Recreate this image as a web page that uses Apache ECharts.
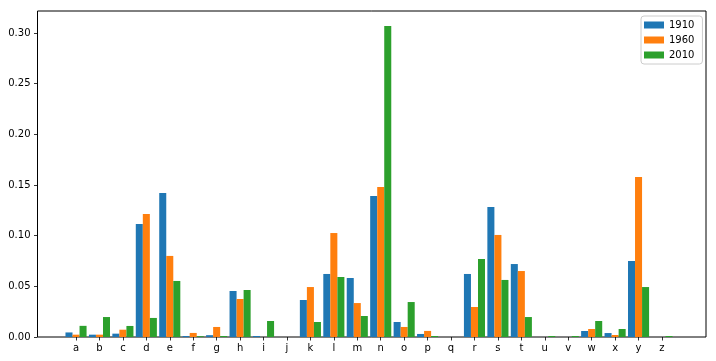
<!DOCTYPE html>
<html>
<head>
<meta charset="utf-8">
<script src="https://cdn.jsdelivr.net/npm/echarts@6/dist/echarts.min.js"></script>
<style>html,body{margin:0;padding:0;background:#fff}#c{width:716px;height:361px}</style>
</head>
<body>
<div id="c"></div>
<script>
const categories = ['a','b','c','d','e','f','g','h','i','j','k','l','m','n','o','p','q','r','s','t','u','v','w','x','y','z'];
const seriesNames = ['1910','1960','2010'];
const v1910 = [0.0045,0.0023,0.0033,0.1115,0.1421,0.0010,0.0018,0.0454,0.0010,0.0000,0.0365,0.0622,0.0582,0.1391,0.0148,0.0030,0.0000,0.0622,0.1283,0.0720,0.0000,0.0000,0.0059,0.0039,0.0750,0.0000];
const v1960 = [0.0023,0.0023,0.0072,0.1214,0.0800,0.0040,0.0099,0.0375,0.0000,0.0000,0.0493,0.1026,0.0335,0.1480,0.0099,0.0060,0.0000,0.0296,0.1007,0.0651,0.0000,0.0000,0.0079,0.0020,0.1580,0.0000];
const v2010 = [0.0110,0.0197,0.0109,0.0188,0.0553,0.0008,0.0010,0.0464,0.0158,0.0000,0.0148,0.0592,0.0207,0.3069,0.0345,0.0010,0.0000,0.0770,0.0563,0.0197,0.0010,0.0010,0.0158,0.0079,0.0493,0.0010];
const yTicks = ['0.00','0.05','0.10','0.15','0.20','0.25','0.30'];
const colors = ['#1f77b4','#ff7f0e','#2ca02c'];

const yMax = 0.3217;
const font = 'DejaVu Sans';
const chart = echarts.init(document.getElementById('c'));
chart.setOption({
  animation: false,
  color: colors,
  textStyle: {fontFamily: font},
  grid: [
    {left: 37.5, right: 10, top: 11, bottom: 24, show: true, borderColor: '#000', borderWidth: 1, backgroundColor: 'transparent', outerBoundsMode: 'none', containLabel: false},
    {left: 64.3, right: 42.3, top: 11, bottom: 24, outerBoundsMode: 'none', containLabel: false}
  ],
  legend: {
    orient: 'vertical', left: 641, top: 16,
    data: seriesNames,
    itemWidth: 20, itemHeight: 7, itemGap: 5,
    padding: [4, 8, 4, 3],
    borderColor: '#cccccc', borderWidth: 1, borderRadius: 3, backgroundColor: '#fff',
    textStyle: {fontFamily: font, fontSize: 10, color: '#000'},
    icon: 'rect'
  },
  xAxis: [
    {gridIndex: 0, type: 'value', min: 0, max: 1, show: false},
    {gridIndex: 1, type: 'category', data: categories,
     axisLine: {show: false},
     axisTick: {show: true, alignWithLabel: true, length: 3.5, lineStyle: {color: '#000', width: 0.8}},
     axisLabel: {fontFamily: font, fontSize: 10, color: '#000', margin: 6, interval: 0},
     splitLine: {show: false}}
  ],
  yAxis: [
    {gridIndex: 0, type: 'value', min: 0, max: yMax, interval: 0.05,
     axisLine: {show: false},
     axisTick: {show: true, length: 3.5, lineStyle: {color: '#000', width: 0.8}},
     axisLabel: {fontFamily: font, fontSize: 10, color: '#000', margin: 7, showMaxLabel: false,
       formatter: function (v) { const i = Math.round(v / 0.05); return Math.abs(v - i * 0.05) < 1e-9 ? yTicks[i] : ''; }},
     splitLine: {show: false}},
    {gridIndex: 1, type: 'value', min: 0, max: yMax, show: false, splitLine: {show: false}}
  ],
  series: [
    {name: seriesNames[0], type: 'bar', xAxisIndex: 1, yAxisIndex: 1, data: v1910, barWidth: '30%', barGap: '0%'},
    {name: seriesNames[1], type: 'bar', xAxisIndex: 1, yAxisIndex: 1, data: v1960, barWidth: '30%', barGap: '0%'},
    {name: seriesNames[2], type: 'bar', xAxisIndex: 1, yAxisIndex: 1, data: v2010, barWidth: '30%', barGap: '0%'}
  ]
});
</script>
</body>
</html>
